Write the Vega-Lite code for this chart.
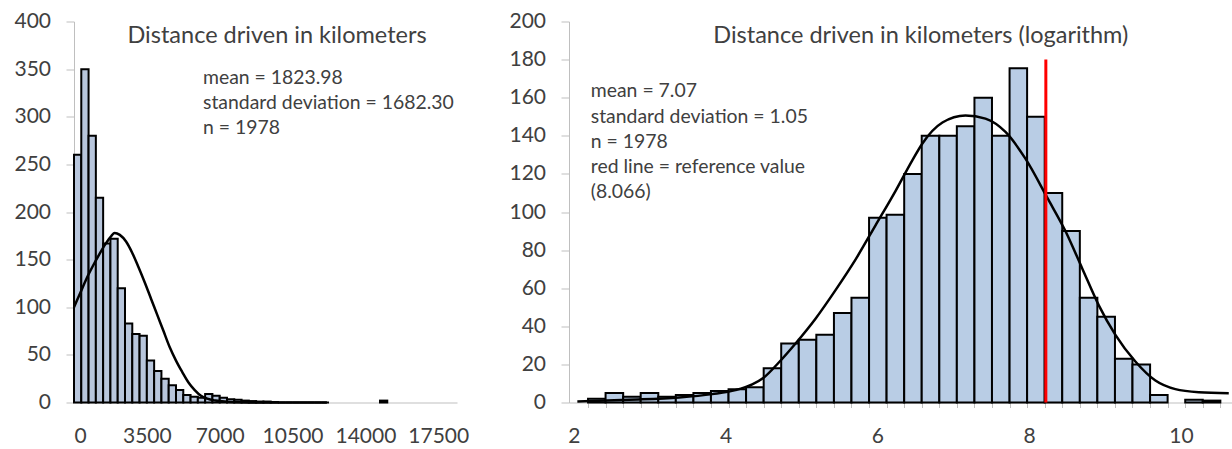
{
  "$schema": "https://vega.github.io/schema/vega-lite/v6.json",
  "background": "white",
  "padding": {"left": 13, "top": 10.5, "right": 0, "bottom": 0},
  "spacing": 39,
  "config": {
    "view": {"stroke": null},
    "font": "Lato",
    "axis": {"grid": false, "domainColor": "#bfbfbf", "tickColor": "#bfbfbf", "labelFont": "Lato", "labelFontSize": 21, "labelColor": "#404040"}
  },
  "datasets": {
    "lb": [
      {"x0": 0, "x1": 350, "n": 260}, {"x0": 350, "x1": 700, "n": 350}, {"x0": 700, "x1": 1050, "n": 280},
      {"x0": 1050, "x1": 1400, "n": 215}, {"x0": 1400, "x1": 1750, "n": 167}, {"x0": 1750, "x1": 2100, "n": 172},
      {"x0": 2100, "x1": 2450, "n": 120}, {"x0": 2450, "x1": 2800, "n": 83}, {"x0": 2800, "x1": 3150, "n": 72},
      {"x0": 3150, "x1": 3500, "n": 70}, {"x0": 3500, "x1": 3850, "n": 44}, {"x0": 3850, "x1": 4200, "n": 33},
      {"x0": 4200, "x1": 4550, "n": 25}, {"x0": 4550, "x1": 4900, "n": 18}, {"x0": 4900, "x1": 5250, "n": 13},
      {"x0": 5250, "x1": 5600, "n": 8}, {"x0": 5600, "x1": 5950, "n": 6}, {"x0": 5950, "x1": 6300, "n": 5},
      {"x0": 6300, "x1": 6650, "n": 9}, {"x0": 6650, "x1": 7000, "n": 7}, {"x0": 7000, "x1": 7350, "n": 5},
      {"x0": 7350, "x1": 7700, "n": 3.5}, {"x0": 7700, "x1": 8050, "n": 3}, {"x0": 8050, "x1": 8400, "n": 2},
      {"x0": 8400, "x1": 8750, "n": 1.5}, {"x0": 8750, "x1": 9100, "n": 1}, {"x0": 9100, "x1": 9450, "n": 1},
      {"x0": 9450, "x1": 9800, "n": 0.5}, {"x0": 9800, "x1": 10150, "n": 0}, {"x0": 10150, "x1": 10500, "n": 0},
      {"x0": 10500, "x1": 10850, "n": 0}, {"x0": 10850, "x1": 11200, "n": 0}, {"x0": 11200, "x1": 11550, "n": 0},
      {"x0": 11550, "x1": 11900, "n": 0}, {"x0": 11900, "x1": 12250, "n": 0}, {"x0": 14700, "x1": 15050, "n": 2}
    ],
    "lc": [
      {"x": 0, "y": 100}, {"x": 300, "y": 115}, {"x": 600, "y": 130}, {"x": 900, "y": 143},
      {"x": 1200, "y": 155}, {"x": 1500, "y": 166}, {"x": 1800, "y": 175}, {"x": 1950, "y": 178},
      {"x": 2200, "y": 176}, {"x": 2500, "y": 169}, {"x": 2800, "y": 157}, {"x": 3100, "y": 142},
      {"x": 3400, "y": 126}, {"x": 3700, "y": 109}, {"x": 4000, "y": 92}, {"x": 4300, "y": 75},
      {"x": 4600, "y": 58}, {"x": 4900, "y": 44}, {"x": 5200, "y": 32}, {"x": 5500, "y": 21},
      {"x": 5800, "y": 13}, {"x": 6100, "y": 7}, {"x": 6400, "y": 4}, {"x": 6800, "y": 2},
      {"x": 7500, "y": 0.5}, {"x": 8500, "y": 0}, {"x": 12150, "y": 0}
    ],
    "rb": [
      {"x0": 2.186, "x1": 2.417, "n": 2}, {"x0": 2.417, "x1": 2.649, "n": 5}, {"x0": 2.649, "x1": 2.880, "n": 3},
      {"x0": 2.880, "x1": 3.112, "n": 5}, {"x0": 3.112, "x1": 3.343, "n": 3}, {"x0": 3.343, "x1": 3.575, "n": 4},
      {"x0": 3.575, "x1": 3.806, "n": 5}, {"x0": 3.806, "x1": 4.038, "n": 6}, {"x0": 4.038, "x1": 4.269, "n": 7},
      {"x0": 4.269, "x1": 4.501, "n": 8}, {"x0": 4.501, "x1": 4.732, "n": 18}, {"x0": 4.732, "x1": 4.964, "n": 31},
      {"x0": 4.964, "x1": 5.195, "n": 33}, {"x0": 5.195, "x1": 5.427, "n": 35.5}, {"x0": 5.427, "x1": 5.658, "n": 47},
      {"x0": 5.658, "x1": 5.890, "n": 55}, {"x0": 5.890, "x1": 6.121, "n": 97}, {"x0": 6.121, "x1": 6.353, "n": 98.5},
      {"x0": 6.353, "x1": 6.584, "n": 120}, {"x0": 6.584, "x1": 6.816, "n": 140}, {"x0": 6.816, "x1": 7.047, "n": 140},
      {"x0": 7.047, "x1": 7.279, "n": 145}, {"x0": 7.279, "x1": 7.510, "n": 160}, {"x0": 7.510, "x1": 7.742, "n": 140},
      {"x0": 7.742, "x1": 7.973, "n": 175.5}, {"x0": 7.973, "x1": 8.205, "n": 150}, {"x0": 8.205, "x1": 8.436, "n": 110},
      {"x0": 8.436, "x1": 8.668, "n": 90}, {"x0": 8.668, "x1": 8.899, "n": 55}, {"x0": 8.899, "x1": 9.131, "n": 45},
      {"x0": 9.131, "x1": 9.362, "n": 23}, {"x0": 9.362, "x1": 9.594, "n": 20}, {"x0": 9.594, "x1": 9.825, "n": 4},
      {"x0": 10.057, "x1": 10.288, "n": 1.5}, {"x0": 10.288, "x1": 10.520, "n": 1}
    ],
    "rc": [
      {"x": 2.045, "y": 0.5}, {"x": 2.726, "y": 1.4}, {"x": 3.385, "y": 2.6}, {"x": 3.823, "y": 4.4},
      {"x": 4.13, "y": 6.5}, {"x": 4.35, "y": 9.5}, {"x": 4.5, "y": 13}, {"x": 4.7, "y": 21},
      {"x": 4.921, "y": 31}, {"x": 5.184, "y": 44}, {"x": 5.448, "y": 59}, {"x": 5.711, "y": 75},
      {"x": 5.975, "y": 93}, {"x": 6.238, "y": 111}, {"x": 6.458, "y": 127},
      {"x": 6.593, "y": 136}, {"x": 6.857, "y": 147}, {"x": 7.161, "y": 150.7},
      {"x": 7.424, "y": 149}, {"x": 7.688, "y": 142}, {"x": 7.951, "y": 128}, {"x": 8.246, "y": 107},
      {"x": 8.478, "y": 90}, {"x": 8.698, "y": 70.5}, {"x": 8.918, "y": 51}, {"x": 9.137, "y": 35.5},
      {"x": 9.4, "y": 21.5}, {"x": 9.664, "y": 11.5}, {"x": 9.927, "y": 7}, {"x": 10.236, "y": 5.4},
      {"x": 10.631, "y": 4.9}
    ],
    "ref": [{"v": 8.22, "top": 180, "bottom": 0}]
  },
  "hconcat": [
    {
      "width": 383,
      "height": 381,
      "resolve": {"axis": {"x": "independent", "y": "independent"}},
      "layer": [
        {
          "data": {"name": "lb"},
          "mark": {"type": "rect", "fill": "#b8c6dc", "stroke": "black", "strokeWidth": 2},
          "encoding": {
            "x": {"field": "x0", "type": "quantitative", "title": null,
                  "scale": {"domain": [0, 18400], "nice": false, "zero": false},
                  "axis": {"values": [0, 3500, 7000, 10500, 14000, 17500], "format": "d", "ticks": false, "labelPadding": 23, "orient": "bottom"}},
            "x2": {"field": "x1"},
            "y": {"field": "n", "type": "quantitative", "title": null,
                  "scale": {"domain": [0, 400], "nice": false},
                  "axis": {"values": [0, 50, 100, 150, 200, 250, 300, 350, 400], "tickSize": 8, "labelPadding": 15.5, "orient": "left"}},
            "y2": {"datum": 0}
          }
        },
        {
          "data": {"name": "lc"},
          "mark": {"type": "line", "color": "black", "strokeWidth": 2.5, "interpolate": "monotone"},
          "encoding": {
            "x": {"field": "x", "type": "quantitative", "axis": null},
            "y": {"field": "y", "type": "quantitative", "axis": null}
          }
        },
        {
          "data": {"values": [{"label": "Distance driven in kilometers", "px": 9753, "py": 384.8}]},
          "mark": {"type": "text", "font": "Lato", "fontSize": 23.5, "color": "#404040", "align": "center", "baseline": "middle"},
          "encoding": {
            "x": {"field": "px", "type": "quantitative", "axis": null},
            "y": {"field": "py", "type": "quantitative", "axis": null},
            "text": {"field": "label"}
          }
        },
        {
          "data": {"values": [{"label": "mean = 1823.98", "px": 6197, "py": 341}, {"label": "standard deviation = 1682.30", "px": 6197, "py": 314.8}, {"label": "n = 1978", "px": 6197, "py": 288.5}]},
          "mark": {"type": "text", "font": "Lato", "fontSize": 19.4, "color": "#404040", "align": "left", "baseline": "middle"},
          "encoding": {
            "x": {"field": "px", "type": "quantitative", "axis": null},
            "y": {"field": "py", "type": "quantitative", "axis": null},
            "text": {"field": "label"}
          }
        }
      ]
    },
    {
      "width": 665,
      "height": 381,
      "resolve": {"axis": {"x": "independent", "y": "independent"}},
      "layer": [
        {
          "data": {"name": "rb"},
          "mark": {"type": "rect", "fill": "#b9cde5", "stroke": "black", "strokeWidth": 2},
          "encoding": {
            "x": {"field": "x0", "type": "quantitative", "title": null,
                  "scale": {"domain": [1.935, 10.7], "nice": false, "zero": false},
                  "axis": {"values": [2, 4, 6, 8, 10], "ticks": false, "labelPadding": 23, "orient": "bottom"}},
            "x2": {"field": "x1"},
            "y": {"field": "n", "type": "quantitative", "title": null,
                  "scale": {"domain": [0, 200], "nice": false},
                  "axis": {"values": [0, 20, 40, 60, 80, 100, 120, 140, 160, 180, 200], "tickSize": 8, "labelPadding": 15.5, "orient": "left"}},
            "y2": {"datum": 0}
          }
        },
        {
          "data": {"name": "rc"},
          "mark": {"type": "line", "color": "black", "strokeWidth": 2.5, "interpolate": "monotone"},
          "encoding": {
            "x": {"field": "x", "type": "quantitative", "axis": null},
            "y": {"field": "y", "type": "quantitative", "axis": null}
          }
        },
        {
          "data": {"name": "ref"},
          "mark": {"type": "rule", "color": "#ff0000", "strokeWidth": 3},
          "encoding": {
            "x": {"field": "v", "type": "quantitative", "title": null,
                  "axis": {"values": [2.186, 2.417, 2.649, 2.880, 3.112, 3.343, 3.575, 3.806, 4.038, 4.269, 4.501, 4.732, 4.964, 5.195, 5.427, 5.658, 5.890, 6.121, 6.353, 6.584, 6.816, 7.047, 7.279, 7.510, 7.742, 7.973, 8.205, 8.436, 8.668, 8.899, 9.131, 9.362, 9.594, 9.825, 10.057, 10.288, 10.520],
                           "labels": false, "domain": false, "ticks": true, "tickSize": 5, "orient": "bottom"}},
            "y": {"field": "top", "type": "quantitative", "axis": null},
            "y2": {"field": "bottom"}
          }
        },
        {
          "data": {"values": [{"label": "Distance driven in kilometers (logarithm)", "px": 6.572, "py": 192.4}]},
          "mark": {"type": "text", "font": "Lato", "fontSize": 23.5, "color": "#404040", "align": "center", "baseline": "middle"},
          "encoding": {
            "x": {"field": "px", "type": "quantitative", "axis": null},
            "y": {"field": "py", "type": "quantitative", "axis": null},
            "text": {"field": "label"}
          }
        },
        {
          "data": {"values": [{"label": "mean = 7.07", "px": 2.222, "py": 163.7}, {"label": "standard deviation = 1.05", "px": 2.222, "py": 150}, {"label": "n = 1978", "px": 2.222, "py": 136.9}, {"label": "red line = reference  value", "px": 2.222, "py": 123.8}, {"label": "(8.066)", "px": 2.222, "py": 110.3}]},
          "mark": {"type": "text", "font": "Lato", "fontSize": 19.4, "color": "#404040", "align": "left", "baseline": "middle"},
          "encoding": {
            "x": {"field": "px", "type": "quantitative", "axis": null},
            "y": {"field": "py", "type": "quantitative", "axis": null},
            "text": {"field": "label"}
          }
        }
      ]
    }
  ]
}
